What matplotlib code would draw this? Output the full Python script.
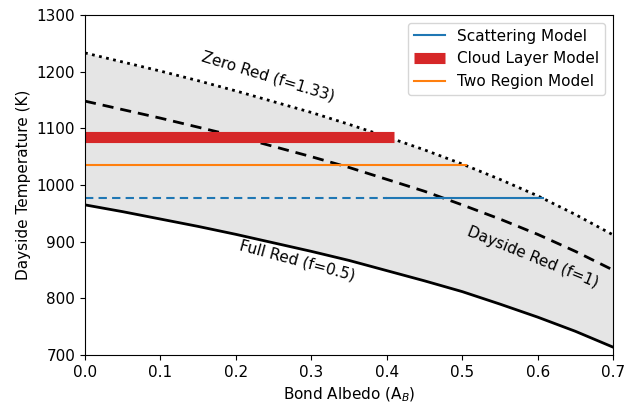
import matplotlib
matplotlib.use("Agg")
import matplotlib.pyplot as plt

albedo = [0.0, 0.05, 0.1, 0.15, 0.2, 0.25, 0.3, 0.35, 0.4, 0.45, 0.5, 0.55, 0.6, 0.65, 0.7]
full_red = [965, 953, 940, 927, 913, 898, 883, 867, 849, 831, 812, 790, 767, 742, 714]
dayside_red = [1148, 1133, 1118, 1102, 1086, 1068, 1050, 1031, 1010, 989, 965, 940, 913, 883, 850]
zero_red = [1233, 1217, 1201, 1184, 1166, 1147, 1128, 1107, 1085, 1062, 1037, 1010, 981, 948, 912]

scatter_T = 977
scatter_dash_end = 0.40
scatter_end = 0.607
cloud_T = 1085
cloud_end = 0.41
two_region_T = 1035
two_region_end = 0.505

plt.rcParams["font.size"] = 11

fig = plt.figure(figsize=(6.25, 4.04), dpi=100)
ax = fig.add_axes([0.136, 0.121, 0.845, 0.842])

ax.fill_between(albedo, full_red, zero_red, color="#e5e5e5", lw=0)
ax.plot(albedo, full_red, color="black", lw=2)
ax.plot(albedo, dayside_red, color="black", lw=2, ls=(0, (4, 2.5)))
ax.plot(albedo, zero_red, color="black", lw=2, ls=(0, (1, 1.6)))

ax.plot([0, scatter_dash_end], [scatter_T, scatter_T], color="#1f77b4", lw=1.5, ls=(0, (4, 2.5)))
ax.plot([scatter_dash_end, scatter_end], [scatter_T, scatter_T], color="#1f77b4", lw=1.5, label="Scattering Model")
ax.plot([0, cloud_end], [cloud_T, cloud_T], color="#d62728", lw=8, solid_capstyle="butt", label="Cloud Layer Model")
ax.plot([0, two_region_end], [two_region_T, two_region_T], color="#ff7f0e", lw=1.5, label="Two Region Model")

ax.text(0.243, 1192, "Zero Red (f=1.33)", rotation=-17, ha="center", va="center", fontsize=11)
ax.text(0.593, 873, "Dayside Red (f=1)", rotation=-22, ha="center", va="center", fontsize=11)
ax.text(0.281, 866, "Full Red (f=0.5)", rotation=-15, ha="center", va="center", fontsize=11)

ax.set_xlim(0, 0.7)
ax.set_ylim(700, 1300)
ax.set_xlabel("Bond Albedo (A$_B$)")
ax.set_ylabel("Dayside Temperature (K)")
ax.legend(loc="upper right")

fig.savefig("out.png", dpi=100)
